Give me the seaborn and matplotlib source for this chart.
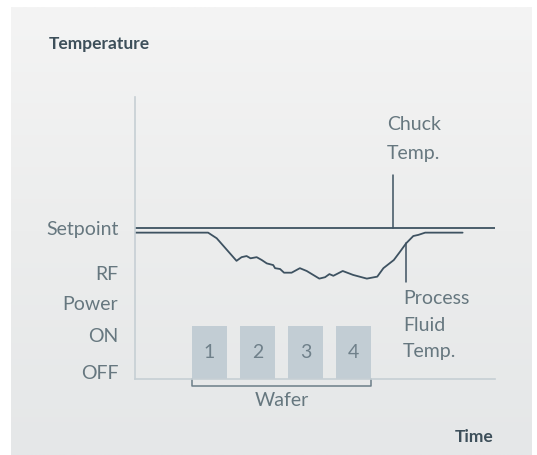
import matplotlib
matplotlib.use('Agg')
import numpy as np
import seaborn as sns
import matplotlib.pyplot as plt
from matplotlib.colors import LinearSegmentedColormap

# Process fluid temperature trace (time 0-100, temperature 0-100)
time = [0, 20.3, 22.7, 28.2, 29.6, 31.0, 32.1, 33.8, 35.2, 36.6, 38.4, 38.9, 40.3,
        41.4, 43.5, 45.8, 47.7, 51.2, 52.8, 54.0, 55.1, 57.7, 60.6, 64.4, 67.3,
        69.0, 71.9, 73.6, 75.3, 77.3, 78.7, 80.6, 91.0]
fluid_temp = [51.9, 51.9, 49.9, 41.9, 43.2, 43.6, 42.8, 43.2, 42.2, 41.0, 40.4, 39.3, 39.0,
              37.7, 37.7, 39.3, 38.3, 35.6, 36.1, 37.2, 36.6, 38.3, 36.9, 35.6, 36.3,
              39.3, 42.2, 45.1, 48.1, 50.7, 51.1, 51.9, 51.9]

setpoint_time = [0, 100]
setpoint_temp = [53.4, 53.4]

wafer_labels = ['1', '2', '3', '4']
wafer_time = [20.7, 34.0, 47.4, 60.7]
wafer_width = 9.6
wafer_height = 18.7

ytick_pos = [53.4, 37.6, 27.0, 15.6, 2.5]
ytick_labels = ['Setpoint', 'RF', 'Power', 'ON', 'OFF']

line_col = '#3e5261'
text_col = '#66777f'
axis_col = '#c6cfd4'
box_col = '#c2cdd4'
fs = 14

sns.set_theme(style='white')
plt.rcParams['font.family'] = ['Lato', 'DejaVu Sans']

fig = plt.figure(figsize=(5.37, 4.55), dpi=100)
fig.patch.set_facecolor('white')

# gradient background panel
bg = fig.add_axes([11 / 537, 0, 521 / 537, 448 / 455])
cmap = LinearSegmentedColormap.from_list('bg', ['#f4f4f4', '#eceded', '#e5e7e8'])
bg.imshow(np.linspace(0, 1, 256).reshape(-1, 1), aspect='auto', cmap=cmap,
          extent=[0, 1, 0, 1], origin='upper')
bg.axis('off')

ax = fig.add_axes([135 / 537, 76 / 455, 360 / 537, 282 / 455])
ax.set_facecolor('none')
ax.set_xlim(0, 100)
ax.set_ylim(0, 100)

sns.lineplot(x=setpoint_time, y=setpoint_temp, ax=ax, color=line_col, lw=1.3)
sns.lineplot(x=time, y=fluid_temp, ax=ax, color=line_col, lw=1.3)

ax.bar(wafer_time, wafer_height, width=wafer_width, color=box_col,
       edgecolor='none', linewidth=0, zorder=1)
for t, lab in zip(wafer_time, wafer_labels):
    ax.text(t, 9.3, lab, ha='center', va='center', fontsize=fs, color='#6f808a')

# bracket under wafers
left = wafer_time[0] - wafer_width / 2
right = wafer_time[-1] + wafer_width / 2
ax.plot([left, left, right, right], [0, -2.4, -2.4, 0], color='#6c7d88',
        lw=1.1, clip_on=False)
ax.text((left + right) / 2, -7.8, 'Wafer', ha='center', va='center',
        fontsize=fs, color=text_col)

# pointers
ax.plot([71.75, 71.75], [53.4, 72.3], color=line_col, lw=1.1)
ax.plot([75.2, 75.2], [48.1, 34.5], color=line_col, lw=1.1)
ax.text(69.9, 90.1, 'Chuck', ha='left', va='center', fontsize=fs, color=text_col)
ax.text(69.9, 80.1, 'Temp.', ha='left', va='center', fontsize=fs, color=text_col)
for yy, s in zip([28.7, 19.1, 9.6], ['Process', 'Fluid', 'Temp.']):
    ax.text(74.4, yy, s, ha='left', va='center', fontsize=fs, color=text_col)

ax.text(99.7, -20.7, 'Time', ha='right', va='center', fontsize=12.5,
        color='#3d4f5a', fontweight='bold')
fig.text(49 / 537, (455 - 44) / 455, 'Temperature', ha='left', va='center',
         fontsize=12.5, color='#3d4f5a', fontweight='bold')

ax.set_yticks(ytick_pos)
ax.set_yticklabels(ytick_labels, fontsize=fs, color=text_col)
ax.tick_params(axis='y', length=0, pad=12)
ax.set_xticks([])
ax.set_xlabel('')
ax.set_ylabel('')
for side in ['top', 'right']:
    ax.spines[side].set_visible(False)
for side in ['left', 'bottom']:
    ax.spines[side].set_color(axis_col)
    ax.spines[side].set_linewidth(1.2)

fig.savefig('out.png', dpi=100)
